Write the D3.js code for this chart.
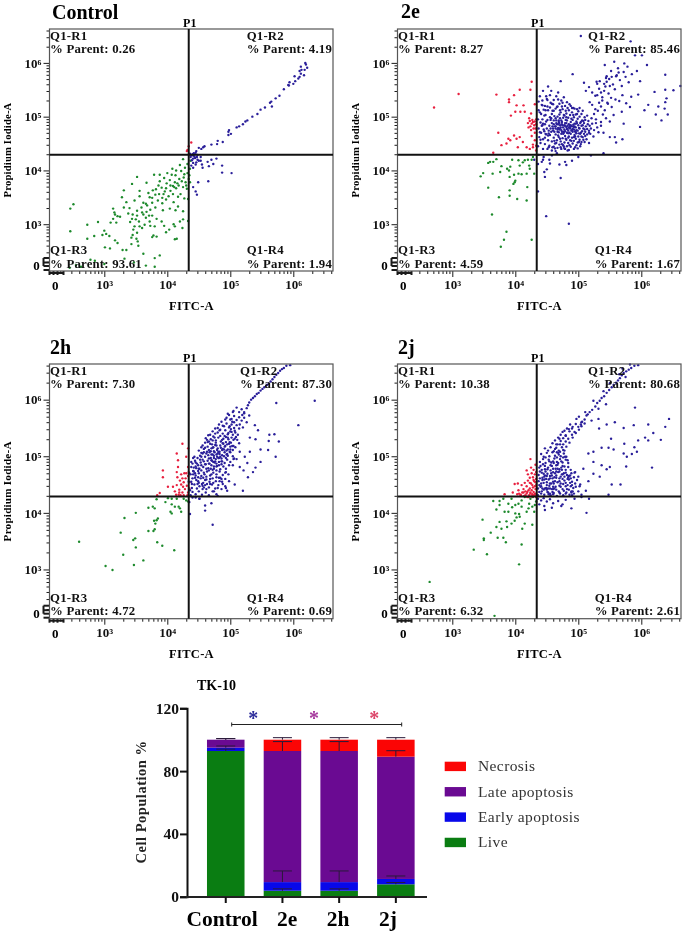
<!DOCTYPE html>
<html><head><meta charset="utf-8">
<script src="https://cdn.jsdelivr.net/npm/d3@7"></script>
<style>html,body{margin:0;padding:0;background:#fff}svg{display:block}text{font-family:"Liberation Serif","Times New Roman",serif}</style>
</head><body><div id="c"></div>
<script>
// Scatter values are flat x,y pairs: log10(signal) x 100
const controlLive=[246,329,251,337,246,287,273,299,273,273,284,278,290,304,300,288,303,282,297,280,308,278,301,257,309,255,317,270,321,265,329,252,335,252,343,275,351,273,353,268,343,263,354,260,362,245,376,276,383,277,378,279,412,272,415,273,388,242,380,237,366,223,380,221,245,219,255,224,278,234,263,221,285,232,300,226,332,236,347,229,314,329,316,322,317,318,314,310,310,303,321,315,325,314,319,303,328,350,335,341,331,331,340,330,348,344,356,352,345,318,338,320,352,325,360,322,362,318,344,310,350,309,355,305,366,312,372,305,376,316,383,310,391,305,373,297,364,299,360,293,348,296,346,290,352,284,345,280,356,296,371,316,380,296,395,297,403,290,412,296,398,285,410,300,420,305,425,309,433,306,424,293,362,340,368,335,372,350,356,362,344,375,331,363,352,388,367,377,377,363,381,355,386,372,391,368,385,344,392,339,398,346,402,352,410,341,417,333,425,324,413,326,404,329,393,326,381,331,373,327,366,338,376,340,370,358,382,365,387,356,396,361,405,362,409,371,399,376,395,386,388,380,404,382,412,378,419,384,413,391,407,392,400,395,414,367,418,372,425,369,431,366,421,356,427,348,433,347,417,351,409,356,394,356,398,367,388,392,379,392,422,399,427,393,432,395,436,403,432,412,437,418,425,421,408,403,420,410,428,405,414,400,434,384,429,378,436,378,435,391,426,387,405,372,392,349,376,349,367,323,359,331,352,316,341,304,411,369,416,376,423,380,430,372];
const controlNecrosis=[432,438,435,430,434,445,438,452,431,436];
const controlLate=[441,428,436,431,438,428,440,430,442,432,445,433,446,436,448,429,450,442,454,440,457,443,459,445,443,426,470,448,480,455,479,449,488,453,497,472,497,466,501,468,498,475,510,480,514,482,520,486,524,491,527,493,535,500,543,505,548,513,555,517,563,526,566,519,565,528,572,534,578,539,585,551,592,559,594,564,593,558,600,561,602,575,603,566,608,571,610,574,612,580,610,585,613,587,612,593,620,597,618,587,622,591,617,577,619,600];
const controlEarly=[437,425,441,422,439,419,441,414,444,423,446,415,447,425,448,420,450,418,453,425,453,418,438,409,441,405,445,411,455,411,456,405,464,416,466,408,470,420,478,422,473,412,487,409,502,395,487,396,441,369,445,361,449,378,447,355,465,380];

const e2Live=[345,389,349,395,357,414,360,416,365,416,370,421,357,368,364,394,376,397,374,350,363,318,378,408,387,403,390,400,392,407,395,420,397,375,391,363,391,353,403,347,418,344,399,378,419,369,405,419,407,409,415,419,420,420,426,420,422,409,410,393,418,394,423,403,430,394,405,394,386,286,382,271,377,258,426,271,391,388,400,381,412,415,428,425,398,392];
const e2Necrosis=[271,517,310,542,370,541,390,532,390,527,398,540,424,550,426,565,407,550,402,521,413,521,431,523,400,509,408,509,415,509,393,502,425,506,373,470,398,465,389,459,378,447,365,433,386,450,392,456,402,459,407,462,412,453,404,443,418,443,423,440,428,448,431,456,421,480,424,482,426,487,428,490,430,484,432,478,423,492,427,494,431,491,433,486,429,478,425,475,420,488,433,495,422,497,431,470,426,464,433,446,428,443,433,437];
const e2Early=[437,429,436,412,445,425,444,420,455,413,446,397,447,388,450,402,470,411,479,416,490,418,481,410,436,361,449,315,485,301,472,386,454,420,442,416,430,420,458,428,466,432,500,425,520,428,540,432];
const e2LateOutliers=[504,650,583,640,601,614,590,614,557,602,573,599,542,596,593,585,585,579,609,596,564,582,491,579,638,578,545,575,553,574,560,575,529,565,509,563,472,566,598,566,662,557,638,550,651,549,621,546,595,541,584,537,640,534,638,527,611,522,627,519,605,512,637,515,623,504,642,504,632,493,569,509,598,481,558,462,572,487,536,490,530,480,540,470,550,462,560,452,570,458,517,470,528,495];
const e2LateTail=[512,548,517,555,522,545,527,539,530,561,533,552,536,545,538,536,541,548,543,556,545,565,548,543,550,557,552,535,530,540,534,566,538,530,541,561,544,572,546,526,549,570,552,585,555,560,558,551,561,577,563,590,566,568,569,557,572,583,575,574,578,593,580,564,525,505,531,511,536,519,542,512,547,524,553,518,559,532,565,529,570,540,576,525,582,518,518,527,522,522,527,514,533,526,539,504,544,497,550,491,556,503];
const e2LateCore=[436,445,438,462,437,478,436,495,437,512,437,528,440,451,441,470,440,489,441,505,442,522,439,538,444,440,444,458,445,476,443,495,445,513,443,530,444,548,447,449,448,468,447,486,448,503,447,520,449,538,451,440,452,456,450,478,451,494,452,512,451,531,452,556,454,446,455,466,454,483,455,499,455,517,455,540,458,437,458,454,457,472,458,488,458,505,458,524,457,548,461,444,461,461,460,478,461,493,461,511,461,531,464,436,463,450,464,467,463,482,464,497,464,515,465,538,467,442,466,456,467,472,466,486,467,500,467,519,468,545,470,448,469,462,470,476,469,490,470,504,470,524,473,440,472,454,473,468,472,480,473,493,472,508,473,530,476,447,475,460,476,472,475,484,476,498,475,514,477,536,479,440,478,452,479,464,478,476,479,488,478,502,479,520,482,445,481,457,482,470,481,481,482,493,481,506,482,527,485,438,484,451,485,463,484,474,485,486,484,498,485,512,488,444,487,456,488,468,487,478,488,490,487,503,488,520,491,450,490,461,491,472,490,482,491,494,490,508,493,440,493,455,494,466,493,476,494,487,493,499,494,515,497,447,496,459,497,469,496,480,497,491,496,504,499,452,500,463,499,474,500,484,499,496,500,510,503,445,502,457,503,468,502,478,503,488,502,500,505,463,506,473,505,483,506,493,505,505,508,457,509,468,508,478,509,488,511,472,512,482,511,494,514,467,514,477,515,486,517,474,518,483,520,478,443,484,446,473,449,491,453,474,456,494,459,482,462,472,465,488,468,479,471,497,474,486,477,470,480,494,483,483,486,470,489,496,492,485,495,473,498,488,501,479,504,470,507,484,510,476,474,472,471,484,469,471,476,480,479,473,483,477,485,480,481,488,478,484,474,490,471,478,468,486,464,478,461,486,488,484,491,477,494,482,497,475];
const e2LateFill=[439,471,442,483,446,502,449,467,451,519,453,443,456,478,459,511,462,455,465,493,468,465,471,512,474,449,477,503,480,459,483,516,486,447,489,474,492,503,495,463,498,514,501,453,504,490,507,462,510,499,513,458,516,492,519,468,522,487,525,475,440,457,443,521,447,461,450,533,453,469,456,526,459,443,462,501,465,451,468,532,471,459,474,519,477,444,480,511,483,437,486,523,489,455,492,516,495,443,498,505,501,469,504,449,507,511,510,453,439,508,444,487,448,512,452,465,457,497,460,523,463,441,466,518,469,493,472,443,475,526,478,441,481,499,484,461,487,481,490,516,493,462,496,487,499,441,502,516,505,453,508,492,511,464,514,502,517,451,521,497,524,463,528,488,532,471,536,483,473,475,476,468,470,488,479,483,482,477,467,476,484,469,487,483,490,475,464,482,460,474,493,481,496,471];

const h2Live=[260,349,302,306,313,299,330,326,347,308,362,316,326,365,332,391,350,400,346,352,349,355,350,339,370,368,378,368,380,371,379,386,383,387,385,390,381,381,384,348,392,342,411,334,370,409,377,411,380,408,383,424,397,419,401,426,407,425,415,425,405,402,407,399,407,415,412,411,418,411,422,402,420,408,426,425,430,422,433,420];
const h2Necrosis=[424,522,393,475,393,463,415,505,417,493,417,481,415,472,433,514,430,499,433,481,388,435,384,431,401,446,409,446,415,449,412,438,418,432,424,436,428,442,433,436,419,441,422,450,426,454,431,448,435,454,429,461,424,461,420,457,416,463,430,470,433,465,427,470,422,468,435,443,432,431,426,431,421,431,434,472,414,432,419,436,425,446];
const h2Early=[440,427,451,425,460,413,460,404,470,417,472,379,436,398,451,425,435,419,445,427];
const h2LateLine=[522,578,526,585,528,590,530,595,533,600,536,603,539,606,542,610,545,612,548,616,551,619,554,622,558,626,561,628,564,632,567,636,570,640,573,644,576,647,579,651,582,654,585,656,589,660,595,661];
const h2LateOutliers=[573,594,634,598,608,555,539,555,544,546,562,538,570,539,577,526,561,527,540,530,531,533,548,512,560,511,572,499,531,508,523,499,515,481,521,475,536,472,528,463,507,450,495,439,520,439,480,430,540,480,527,488,515,508,505,495,548,490];
const h2LateCore=[437,431,440,437,445,433,450,438,455,432,461,436,466,431,472,438,478,433,439,444,443,450,438,455,447,443,451,447,456,442,460,449,466,445,471,450,476,443,481,449,486,442,492,447,440,461,445,466,437,468,449,456,453,461,457,453,462,459,467,455,472,461,477,456,482,462,487,455,492,460,441,474,446,479,438,481,450,470,454,475,459,468,463,473,468,466,473,471,478,468,483,473,488,467,493,472,497,468,440,487,444,492,449,484,453,489,457,481,461,486,465,479,470,484,474,478,479,483,484,477,489,482,493,478,498,484,443,499,448,497,452,501,456,494,460,499,464,492,469,497,473,490,477,495,482,490,486,496,491,488,495,494,500,490,450,510,454,506,458,513,462,505,466,511,470,503,474,509,478,503,483,508,487,502,491,507,496,501,500,507,504,500,456,519,460,524,464,517,468,522,472,515,476,520,480,514,484,519,488,513,492,518,496,512,500,517,504,511,508,516,461,532,465,537,469,530,473,535,477,528,481,533,485,526,489,531,493,525,497,530,501,524,505,529,472,544,476,549,480,542,484,547,488,540,492,546,496,539,500,544,504,538,508,542,512,538,482,556,486,561,490,553,494,558,498,551,502,556,506,550,510,555,514,549,494,568,498,573,502,566,506,571,510,564,514,569,518,563,522,568,505,580,510,586,514,578,518,583,522,576,450,478,454,484,458,491,462,478,466,487,470,493,474,501,478,487,482,497,486,486,454,465,458,471,462,464,466,475,470,468,474,482,478,475,482,484,486,491,490,500,494,510,498,522,502,533,458,445,463,451,468,460,473,453,478,463,483,456,488,451,493,444,444,470,449,463,455,451,460,458,465,502,469,509,473,516,477,524,481,508,485,515,489,522,493,534,497,541,501,548,506,560,467,487,471,492,475,507,479,499,483,504,487,511,491,517,495,504,499,525,503,518,507,531,452,494,456,505,460,515,464,525,468,538,472,528,476,540,480,550,484,536,488,554,492,565,496,575,500,565,504,578,446,458,441,468,438,490,442,480,447,487,434,455,435,470,436,440];
const h2LateFill=[439,451,442,473,445,489,448,451,451,478,454,499,457,462,460,486,463,508,466,496,469,478,472,503,475,489,478,519,481,497,484,462,487,529,490,512,493,497,496,533,499,508,502,543,505,518,509,534,463,529,467,507,471,521,475,533,479,511,483,546,487,491,491,536,495,521,499,553,503,561,507,545,511,529,515,556,519,573,474,497,478,482,470,514,466,526,458,507,454,516,449,474,445,482,441,497,444,462,450,453,456,448,462,442,468,451,474,438,480,444,486,460,492,471,498,456,504,484,510,495,472,476,476,491,480,505,484,499,488,523,494,503,500,512,506,496,514,523,520,551,526,560,530,572];

const j2Live=[264,278,367,218,406,309,334,335,350,352,350,355,355,327,348,388,361,365,372,356,381,356,385,348,410,344,370,375,378,372,387,375,394,381,375,384,386,385,399,386,415,381,427,379,411,372,365,421,375,421,375,414,370,406,383,402,389,402,400,399,406,398,402,392,407,393,381,425,394,425,389,416,400,414,405,416,410,422,410,411,421,408,427,411,418,402,431,414,424,425,433,420,428,428,422,416,415,428,430,402,395,410];
const j2Necrosis=[424,495,418,475,399,451,404,452,410,449,383,433,396,436,405,440,411,436,416,431,421,428,426,429,431,431,433,428,408,432,413,442,419,437,424,434,429,437,432,442,418,447,423,443,428,445,433,449,415,453,420,457,425,452,430,456,433,460,423,462,428,463,431,468,420,468,426,470,433,472,429,476,425,480,432,485,427,433,422,431,418,434,414,430,409,431,431,434,426,440,421,440,416,438,431,447,427,449,423,453,429,458,432,454,424,436,428,431,433,434,419,428,413,436,406,434,403,433];
const j2Early=[436,425,441,422,445,426,450,420,438,415,446,412,455,424,460,417,468,421,475,415,489,408,513,400,517,425,473,412,458,409,447,405,480,423,494,425,505,428];
const j2LateOutliers=[590,586,644,566,611,556,638,552,619,541,588,555,558,560,545,556,572,550,552,531,595,528,606,533,611,528,631,529,573,522,589,516,593,508,572,505,577,499,548,515,556,512,537,515,617,480,576,482,550,481,537,484,524,508,516,505,524,490,508,478,500,464,524,469,516,456,553,450,567,450,512,439,548,432,489,436,533,549,532,566,521,563,511,578,524,598,544,592,532,584,585,504,545,477,534,464,502,447];
const j2LateLine=[505,560,510,565,513,572,518,578,522,582,527,588,530,594,534,598,537,603,541,606,545,612,549,617,553,622,556,626,560,630,563,634,566,638,569,643,572,647,576,650,580,653,584,656,589,660,595,661,575,640,565,645,570,655,582,662,550,629,540,615];
const j2LateCore=[436,431,441,434,446,432,451,437,456,431,461,435,466,430,471,434,476,431,481,436,486,432,491,438,436,443,441,447,445,441,450,449,455,443,460,446,465,441,470,448,475,442,480,447,485,441,490,449,437,456,441,452,446,459,450,454,455,461,460,455,465,462,470,456,475,460,480,453,485,459,490,455,495,452,437,467,442,471,446,464,451,469,455,465,460,472,465,466,470,473,475,468,480,471,485,465,489,470,493,463,438,480,442,476,447,483,451,477,456,484,460,478,465,484,470,477,475,483,480,476,484,481,488,476,439,490,444,495,448,488,453,494,457,489,462,496,466,490,471,495,475,489,480,494,484,488,441,504,445,499,450,506,454,500,459,507,463,501,468,506,472,500,477,505,481,499,447,514,452,510,456,516,461,509,465,515,469,510,474,516,478,510,459,523,463,528,467,521,472,527,476,521,480,526,468,533,472,538,476,532,480,537,484,531,478,545,482,549,486,544,490,549,494,543,487,556,491,552,496,557,500,552,504,556,497,566,501,570,505,553,452,480,458,466,464,446,468,488,474,476,478,457,443,462,448,473,454,448,459,437,463,456,467,478,472,464,476,451,482,442,487,466,447,443,453,433,458,442,463,470,469,438,473,480,439,473,444,486,449,460,456,475,461,488,466,498,471,508,476,498,439,461,442,438,445,453,450,465,455,434,460,442,465,473,470,461,477,470,483,460,488,447,493,434,496,446,500,438,505,432,440,446,447,466,452,443,457,452,462,463,467,454,472,446,478,464,483,449,495,472,498,458,503,450];
const j2LateFill=[438,437,443,458,447,477,452,436,457,470,462,443,467,485,472,452,477,439,482,467,487,453,492,444,440,483,445,469,449,444,454,491,459,461,464,478,469,503,474,468,479,499,484,463,489,438,494,471,438,449,443,443,448,498,453,459,458,483,463,513,468,472,473,491,478,482,483,493,488,461,461,452,466,507,471,521,476,511,481,517,486,524,491,533,496,541,501,547,506,561,510,558,515,574,450,441,455,452,460,491,465,521,470,531,475,543,480,536,485,548,490,538,460,433,470,436,480,434,490,431];

const categories=['Control','2e','2h','2j'];
const live=[92.8,3.8,3.8,7.9];
const early=[2.1,5.5,5.5,3.4];
const late=[5.1,83.5,83.5,77.9];
const necrosis=[0,7.2,7.2,10.8];
const errLive=[94,5,5,9];
const errEarly=[96,16.4,16.4,13.2];
const errLate=[100.7,98.8,98.8,93];
const errNecrosis=[100.7,101.3,101.3,101.3];
const seriesNames=['Live','Early apoptosis','Late apoptosis','Necrosis'];
const seriesColors=['#0a7d12','#0808ea','#6a0a92','#fb0505'];
const logTicks=[3,4,5,6];
const barTicks=[0,40,80,120];
const stars=[['#2c2c9a',253.3],['#a5389c',314],['#dc4468',374.3]];
const categoryNudge=[-3.7,4.7,-1,-8];

const panelInfo=[
 {title:'Control',tx:52,ty:19,ox:0,oy:0,pct:['0.26','4.19','93.61','1.94'],live:controlLive,nec:controlNecrosis,late:controlLate,early:controlEarly},
 {title:'2e',tx:401,ty:18,ox:348,oy:0,pct:['8.27','85.46','4.59','1.67'],live:e2Live,nec:e2Necrosis,late:[...e2LateOutliers,...e2LateTail,...e2LateCore,...e2LateFill],early:e2Early},
 {title:'2h',tx:50,ty:354,ox:0,oy:1,pct:['7.30','87.30','4.72','0.69'],live:h2Live,nec:h2Necrosis,late:[...h2LateOutliers,...h2LateLine,...h2LateCore,...h2LateFill],early:h2Early},
 {title:'2j',tx:398,ty:354,ox:348,oy:1,pct:['10.38','80.68','6.32','2.61'],live:j2Live,nec:j2Necrosis,late:[...j2LateOutliers,...j2LateLine,...j2LateCore,...j2LateFill],early:j2Early}
];
const W=685,H=935;
const svg=d3.select('#c').append('svg').attr('width',W).attr('height',H).style('filter','blur(0.35px)');
const ink='#1a1a1a';
const pow=v=>Math.pow(10,v/100);
const minors=[];
[2,3,4,5,6].forEach(k=>[2,3,4,5,6,7,8,9].forEach(m=>{const v=m*Math.pow(10,k);if(Math.log10(v)>2.3&&Math.log10(v)<6.62)minors.push(v)}));

panelInfo.forEach(p=>{
  const x0=49.5+p.ox,x1=333+p.ox;
  const y0=p.oy?364:29,y1=p.oy?618.7:271;
  const x=d3.scaleLog().domain([pow(213),pow(663)]).range([x0,x1]);
  const y=d3.scaleLog().domain([pow(213),pow(663)]).range([y1,y0]);
  const zeroY=y1-5.2, zeroX=x0+5.8;
  const g=svg.append('g');
  g.append('text').attr('x',p.tx).attr('y',p.ty).attr('font-size',20).attr('font-weight','bold').attr('fill','#000').text(p.title);
  const layers=[[p.live,'#1d8a2c'],[p.nec,'#e8203f'],[p.early,'#2a1f9a'],[p.late,'#2a1f9a']];
  layers.forEach(([a,c])=>{
    const pts=d3.range(0,a.length-1,2).map(i=>[a[i],a[i+1]]);
    g.append('g').attr('fill',c).selectAll('circle').data(pts).join('circle')
      .attr('cx',d=>x(pow(d[0]))).attr('cy',d=>y(pow(d[1]))).attr('r',1.2);
  });
  const mn=g.append('g').attr('transform',`translate(${x0},0)`).call(d3.axisLeft(y).tickValues(minors).tickSize(3).tickFormat(''));
  const mb=g.append('g').attr('transform',`translate(0,${y1})`).call(d3.axisBottom(x).tickValues(minors).tickSize(3).tickFormat(''));
  const majors=logTicks.map(t=>Math.pow(10,t));
  const supers={3:'³',4:'⁴',5:'⁵',6:'⁶'};
  const fmt=v=>'10'+supers[Math.round(Math.log10(v))];
  const ml=g.append('g').attr('transform',`translate(${x0},0)`).call(d3.axisLeft(y).tickValues(majors).tickSize(6).tickPadding(2).tickFormat(fmt));
  const mbb=g.append('g').attr('transform',`translate(0,${y1})`).call(d3.axisBottom(x).tickValues(majors).tickSize(6).tickPadding(3).tickFormat(fmt));
  [mn,mb,ml,mbb].forEach(s=>{s.select('.domain').remove();s.selectAll('line').attr('stroke',ink);
    s.selectAll('text').attr('font-size',13).attr('font-weight','bold').attr('fill','#111').style('font-family','"Liberation Serif",serif')});
  const thick=g.append('g').attr('stroke',ink).attr('stroke-width',2).attr('fill','none');
  [y1-13,y1-8.5,y1-5,y1-1].forEach(v=>thick.append('line').attr('x1',x0-6).attr('x2',x0).attr('y1',v).attr('y2',v));
  thick.append('line').attr('x1',x0-6).attr('x2',x0-6).attr('y1',y1-13).attr('y2',y1-5);
  [x0,x0+4,x0+8,x0+14].forEach(v=>thick.append('line').attr('x1',v).attr('x2',v).attr('y1',y1).attr('y2',y1+4));
  thick.append('line').attr('x1',x0).attr('x2',x0+14).attr('y1',y1+2).attr('y2',y1+2);
  g.append('text').attr('x',x0-13).attr('y',zeroY+4.5).attr('text-anchor','middle').attr('font-size',13).attr('font-weight','bold').text('0');
  g.append('text').attr('x',zeroX).attr('y',y1+19).attr('text-anchor','middle').attr('font-size',13).attr('font-weight','bold').text('0');
  g.append('rect').attr('x',x0).attr('y',y0).attr('width',x1-x0).attr('height',y1-y0).attr('fill','none').attr('stroke','#555').attr('stroke-width',1.2);
  const gx=x(pow(434)),gy=y(pow(429));
  g.append('line').attr('x1',gx).attr('x2',gx).attr('y1',y0).attr('y2',y1).attr('stroke','#111').attr('stroke-width',2);
  g.append('line').attr('x1',x0).attr('x2',x1).attr('y1',gy).attr('y2',gy).attr('stroke','#111').attr('stroke-width',2);
  g.append('text').attr('x',gx+1).attr('y',y0-2).attr('text-anchor','middle').attr('font-size',12).attr('font-weight','bold').text('P1');
  ['Q1-R1','Q1-R2','Q1-R3','Q1-R4'].forEach((n,i)=>{
    const top=i<2,left=i%2===0;
    const yA=top?y0+10.5:y1-17, yB=top?y0+24:y1-3.5;
    const t2=g.append('text').attr('y',yB).attr('font-size',12.8).attr('font-weight','bold').attr('letter-spacing',0.2).attr('fill','#111').text('% Parent: '+p.pct[i]);
    const w=t2.node().getComputedTextLength();
    const xs=left?x0+0.5:x1-1-w;
    t2.attr('x',xs);
    g.append('text').attr('x',xs).attr('y',yA).attr('font-size',12.8).attr('font-weight','bold').attr('letter-spacing',0.2).attr('fill','#111').text(n);
  });
  g.append('text').attr('x',x0+142).attr('y',y1+39).attr('text-anchor','middle').attr('font-size',12.5).attr('font-weight','bold').attr('letter-spacing',0.3).text('FITC-A');
  g.append('text').attr('transform',`translate(${11+p.ox},${(y0+y1)/2}) rotate(-90)`).attr('text-anchor','middle').attr('font-size',p.oy?11.2:10.6).attr('font-weight','bold').attr('letter-spacing',0.2).text('Propidium Iodide-A');
});

const bx=d3.scaleBand().domain(categories).range([197.4,424.2]).paddingInner(0.338).paddingOuter(0.169);
const by=d3.scaleLinear().domain([0,120]).range([896.7,708.3]);
const b=svg.append('g');
const rows=categories.map((c,i)=>({c,Live:live[i],'Early apoptosis':early[i],'Late apoptosis':late[i],Necrosis:necrosis[i]}));
const stack=d3.stack().keys(seriesNames)(rows);
b.selectAll('g.s').data(stack).join('g').attr('class','s').attr('fill',(d,i)=>seriesColors[i])
 .selectAll('rect').data(d=>d).join('rect')
 .attr('x',d=>bx(d.data.c)).attr('width',bx.bandwidth()).attr('y',d=>by(d[1])).attr('height',d=>by(d[0])-by(d[1]));
[errLive,errEarly,errLate,errNecrosis].forEach((arr,si)=>{
  categories.forEach((c,i)=>{
    const top=stack[si][i][1], v=arr[i], cx=bx(c)+bx.bandwidth()/2;
    const eg=b.append('g').attr('stroke','#2a1a3a').attr('stroke-width',1);
    eg.append('line').attr('x1',cx).attr('x2',cx).attr('y1',by(top)).attr('y2',by(v));
    eg.append('line').attr('x1',cx-9.5).attr('x2',cx+9.5).attr('y1',by(v)).attr('y2',by(v));
  });
});
const ay=b.append('g').attr('transform','translate(187,0)').call(d3.axisLeft(by).tickValues(barTicks).tickSize(7).tickPadding(1));
ay.selectAll('text').attr('font-size',15.5).attr('font-weight','bold').attr('fill','#111').style('font-family','"Liberation Serif",serif');
ay.selectAll('line').attr('stroke','#111').attr('stroke-width',2);
ay.select('.domain').attr('stroke','#111').attr('stroke-width',2);
const ax=b.append('g').attr('transform','translate(0,897)').call(d3.axisBottom(bx).tickSize(6).tickPadding(8));
ax.select('.domain').attr('d','M186,0H427').attr('stroke','#222').attr('stroke-width',2);
ax.selectAll('line').attr('stroke','#111').attr('stroke-width',2);
ax.selectAll('text').attr('font-size',21.5).attr('font-weight','bold').attr('fill','#000').style('font-family','"Liberation Serif",serif')
  .attr('dx',(d,i)=>categoryNudge[i]);
b.append('text').attr('transform','translate(146,802) rotate(-90)').attr('text-anchor','middle').attr('font-size',14.5).attr('font-weight','bold').attr('letter-spacing',0.5).attr('fill','#222').text('Cell Population %');
b.append('text').attr('x',197).attr('y',690).attr('font-size',14).attr('font-weight','bold').text('TK-10');
b.append('path').attr('d','M231.7,722.5V726.5M231.7,724.5H401.7M401.7,722.5V726.5').attr('fill','none').attr('stroke','#222').attr('stroke-width',1);
stars.forEach(([c,sx])=>b.append('text').attr('x',sx).attr('y',725).attr('text-anchor','middle').attr('font-size',20).attr('font-weight','bold').attr('fill',c).text('*'));
seriesNames.slice().reverse().forEach((n,i)=>{
  const ly=761.7+i*25.35, c=seriesColors[3-i];
  b.append('rect').attr('x',444.7).attr('y',ly).attr('width',21.3).attr('height',9.4).attr('fill',c);
  b.append('text').attr('x',478).attr('y',ly+9.5).attr('font-size',15.5).attr('letter-spacing',0.4).attr('fill','#333').text(n);
});
</script></body></html>
